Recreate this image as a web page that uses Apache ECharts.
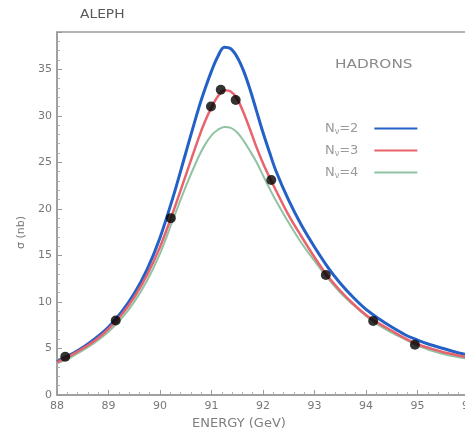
<!DOCTYPE html>
<html>
<head>
<meta charset="utf-8">
<script src="https://cdn.jsdelivr.net/npm/echarts@6/dist/echarts.min.js"></script>
<style>
  html, body { margin: 0; padding: 0; background: #ffffff; }
  #chart { width: 465px; height: 442px; }
</style>
</head>
<body>
<div id="chart"></div>
<script>
// Centre-of-mass energy (GeV) at which the fitted line shapes are sampled
// (denser sampling around the resonance peak)
const energy = [88.0, 88.25, 88.5, 88.75, 89.0, 89.25, 89.5, 89.75, 90.0, 90.25, 90.5,
                90.75, 90.875, 91.0, 91.125, 91.25, 91.375, 91.5, 91.625, 91.75, 91.875,
                92.0, 92.125, 92.25, 92.5, 92.75, 93.0, 93.25, 93.5, 93.75,
                94.0, 94.25, 94.5, 94.75, 95.0, 95.25, 95.5, 95.75, 96.0];

// Hadronic cross section (nb) for 2, 3 and 4 light neutrino species
const sigmaNv2 = [3.6, 4.3, 5.1, 6.1, 7.3, 8.9, 10.9, 13.5, 16.9, 21.2, 26.0,
                  30.8, 32.9, 34.8, 36.4, 37.35, 37.2, 36.3, 34.8, 32.8, 30.5,
                  28.2, 26.1, 24.1, 20.9, 18.2, 15.9, 13.8, 12.0, 10.5,
                  9.2, 8.2, 7.3, 6.5, 5.9, 5.4, 5.0, 4.6, 4.3];
const sigmaNv3 = [3.5, 4.2, 5.0, 5.9, 7.1, 8.6, 10.5, 12.9, 15.9, 19.6, 23.6,
                  27.6, 29.4, 30.9, 32.1, 32.75, 32.6, 31.8, 30.3, 28.5, 26.6,
                  24.9, 23.4, 22.0, 19.3, 17.0, 14.8, 12.8, 11.2, 9.8,
                  8.6, 7.7, 6.9, 6.1, 5.45, 5.0, 4.6, 4.3, 4.0];
const sigmaNv4 = [3.4, 4.0, 4.8, 5.7, 6.8, 8.2, 10.0, 12.3, 15.2, 18.8, 22.4,
                  25.6, 26.9, 27.9, 28.5, 28.8, 28.7, 28.2, 27.3, 26.2, 25.0,
                  23.6, 22.2, 20.9, 18.5, 16.3, 14.4, 12.6, 11.0, 9.7,
                  8.5, 7.5, 6.7, 6.0, 5.3, 4.8, 4.4, 4.1, 3.9];

// Measured points
const dataEnergy = [88.16, 89.14, 90.21, 90.99, 91.18, 91.47, 92.16, 93.22, 94.14, 94.95];
const dataSigma  = [4.1, 8.0, 19.0, 31.0, 32.8, 31.7, 23.1, 12.9, 7.95, 5.4];

const seriesNames = ['N\u03bd=2', 'N\u03bd=3', 'N\u03bd=4'];

const pairs = (xs, ys) => xs.map((x, i) => [x, ys[i]]);

const grey = '#8a8a8a';
const font = 'DejaVu Sans';

const chart = echarts.init(document.getElementById('chart'), null, { renderer: 'canvas' });

chart.setOption({
  animation: false,
  backgroundColor: '#ffffff',
  graphic: [
    { type: 'text', left: 80, top: 9, scaleX: 1.15,
      style: { text: 'ALEPH', font: '12px "DejaVu Sans"', fill: '#5a5a5a' } },
    { type: 'text', left: 335, top: 59, scaleX: 1.33,
      style: { text: 'HADRONS', font: '11.5px "DejaVu Sans"', fill: grey } }
  ],
  legend: {
    data: seriesNames,
    orient: 'vertical',
    left: 320,
    top: 117,
    align: 'right',
    itemWidth: 43,
    itemHeight: 2,
    itemGap: 8,
    icon: 'rect',
    formatter: name => name.replace('\u03bd', '{s|\u03bd}'),
    textStyle: {
      fontFamily: font, fontSize: 13, color: '#9a9a9a', padding: [0, 11, 0, 0],
      rich: { s: { fontFamily: font, fontSize: 8, color: '#9a9a9a', padding: [7, 0, 0, 0] } }
    }
  },
  grid: {
    left: 57, top: 32, right: -4, bottom: 47,
    outerBoundsMode: 'none',
    containLabel: false,
    show: true, borderColor: '#9a9a9a', borderWidth: 1.5, backgroundColor: 'transparent'
  },
  xAxis: {
    type: 'value',
    min: 88, max: 96, interval: 1,
    name: 'ENERGY (GeV)',
    nameLocation: 'middle',
    nameGap: 22,
    nameTextStyle: { fontFamily: font, fontSize: 13, color: '#808080', padding: [0, 48, 0, 0] },
    axisLine: { show: true, lineStyle: { color: '#9a9a9a', width: 1.5 } },
    axisTick: { show: true, inside: true, length: 5, lineStyle: { color: '#9a9a9a' } },
    minorTick: { show: true, splitNumber: 5, length: 3, lineStyle: { color: '#b0b0b0' } },
    axisLabel: { fontFamily: font, fontSize: 11, color: '#777', margin: 6 },
    splitLine: { show: false }
  },
  yAxis: {
    type: 'value',
    min: 0, max: 39, interval: 5,
    name: '\u03c3 (nb)',
    nameLocation: 'middle',
    nameGap: 30,
    nameRotate: 90,
    nameTextStyle: { fontFamily: font, fontSize: 11, color: '#777', padding: [0, 38, 0, 0] },
    axisLine: { show: true, lineStyle: { color: '#9a9a9a', width: 1.5 } },
    axisTick: { show: true, inside: true, length: 5, lineStyle: { color: '#9a9a9a' } },
    minorTick: { show: true, splitNumber: 5, length: 3, lineStyle: { color: '#b0b0b0' } },
    axisLabel: {
      fontFamily: font, fontSize: 11, color: '#777', margin: 5,
      formatter: v => (v % 5 === 0 ? String(v) : '')
    },
    splitLine: { show: false }
  },
  series: [
    {
      name: seriesNames[0], type: 'line', data: pairs(energy, sigmaNv2),
      smooth: 0.35, showSymbol: false, z: 2,
      lineStyle: { color: '#2461c6', width: 3 }, itemStyle: { color: '#2461c6' }
    },
    {
      name: seriesNames[2], type: 'line', data: pairs(energy, sigmaNv4),
      smooth: 0.35, showSymbol: false, z: 2,
      lineStyle: { color: '#8fc3a2', width: 2 }, itemStyle: { color: '#8fc3a2' }
    },
    {
      name: seriesNames[1], type: 'line', data: pairs(energy, sigmaNv3),
      smooth: 0.35, showSymbol: false, z: 3,
      lineStyle: { color: '#e8636c', width: 2.5 }, itemStyle: { color: '#e8636c' }
    },
    {
      name: 'data', type: 'scatter', data: pairs(dataEnergy, dataSigma),
      symbol: 'circle', symbolSize: 10, z: 5,
      itemStyle: { color: '#000000' }
    }
  ]
});
</script>
</body>
</html>
